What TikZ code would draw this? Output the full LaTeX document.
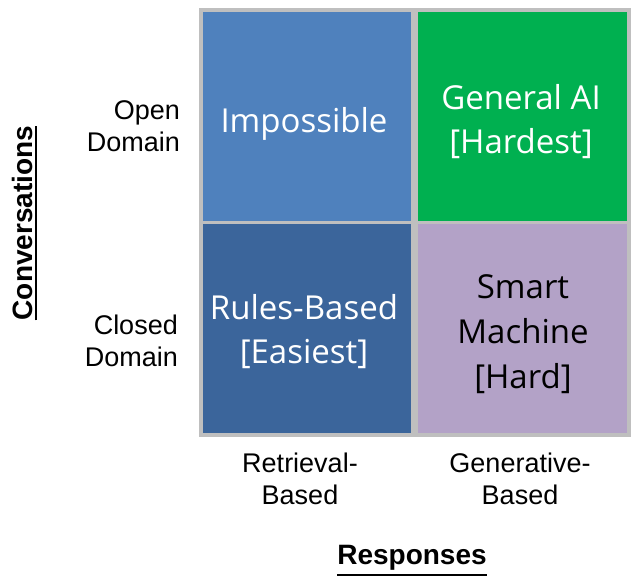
\documentclass[tikz,border=0pt]{standalone}
\usepackage{fontspec}
\setmainfont{Liberation Sans}
\newfontfamily\cellfont{Open Sans}
\definecolor{gridgray}{HTML}{BFBFBF}
\definecolor{cellblue}{HTML}{4F81BD}
\definecolor{cellgreen}{HTML}{00B050}
\definecolor{celldark}{HTML}{3B659B}
\definecolor{cellpurple}{HTML}{B3A2C7}
\begin{document}
\begin{tikzpicture}[x=1pt,y=-1pt,
  cell/.style={minimum width=208pt,minimum height=209pt,inner sep=0pt},
  celltext/.style={inner sep=0pt,align=center,anchor=base,
    font=\cellfont\fontsize{33}{44}\selectfont},
  axislabel/.style={inner sep=0pt,font=\fontsize{27}{32}\selectfont},
  axistitle/.style={inner sep=0pt,font=\bfseries\fontsize{28}{32}\selectfont}]
\useasboundingbox (0,0) rectangle (644,585);
\node[fill=gridgray,minimum width=432pt,minimum height=429pt,inner sep=0pt] (frame) at (415,222.5) {};
\node[cell,fill=cellblue] (tl) at (307,116.5) {};
\node[cell,fill=cellgreen,minimum width=209pt] (tr) at (522.5,116.5) {};
\node[cell,fill=celldark] (bl) at (307,328.5) {};
\node[cell,fill=cellpurple,minimum width=209pt] (br) at (522.5,328.5) {};
\node[celltext,text=white] (tltxt) at (304,133) {Impossible};
\node[celltext,text=white] (trtxt) at (521,154) {General AI\\{}[Hardest]};
\node[celltext,text=white] (bltxt) at (304,363) {Rules-Based\\{}[Easiest]};
\node[celltext,text=black,font=\cellfont\fontsize{33}{45}\selectfont] (brtxt) at (523,388) {Smart\\Machine\\{}[Hard]};
\node[axislabel,align=right,anchor=east] (open) at (180,126) {Open\\Domain};
\node[axislabel,align=right,anchor=east] (closed) at (178,341) {Closed\\Domain};
\node[axislabel,align=center] (retr) at (300,479) {Retrieval-\\Based};
\node[axislabel,align=center] (gen) at (520,479) {Generative-\\Based};
\node[axistitle] (resp) at (412,558) {Responses};
\draw[line width=2pt] ([yshift=-4pt]resp.south west) -- ([yshift=-4pt]resp.south east);
\node[axistitle,rotate=90] (conv) at (22,223) {Conversations};
\draw[line width=2pt] ([xshift=4pt]conv.south west) -- ([xshift=4pt]conv.south east);
\end{tikzpicture}
\end{document}
